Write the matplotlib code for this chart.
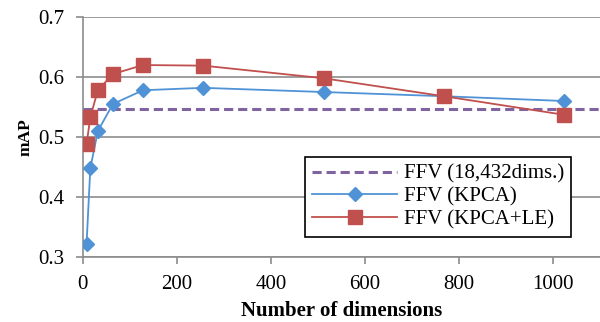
import matplotlib
matplotlib.use("Agg")
import matplotlib.pyplot as plt

plt.rcParams['font.family'] = ['Liberation Serif', 'DejaVu Serif']

ffv_x = [0, 1100]
ffv_y = [0.547, 0.547]

kpca_x = [8, 16, 32, 64, 128, 256, 512, 768, 1024]
kpca_y = [0.322, 0.448, 0.510, 0.555, 0.578, 0.582, 0.575, 0.568, 0.560]

kpca_le_x = [8, 16, 32, 64, 128, 256, 512, 768, 1024]
kpca_le_y = [0.488, 0.533, 0.578, 0.605, 0.620, 0.619, 0.598, 0.568, 0.537]

xticks = [0, 200, 400, 600, 800, 1000]
yticks = [0.3, 0.4, 0.5, 0.6, 0.7]

fig = plt.figure(figsize=(6.0, 3.22), dpi=100)
ax = fig.add_axes([0.138, 0.202, 0.862, 0.745])

gray = '#8c8c8c'
ax.plot(ffv_x, ffv_y, color='#8064A2', lw=2.2, ls=(0, (3, 1.6)),
        label='FFV (18,432dims.)', zorder=3)
ax.plot(kpca_x, kpca_y, color='#4F93D6', lw=1.3, marker='D', ms=7.5,
        label='FFV (KPCA)', zorder=4)
ax.plot(kpca_le_x, kpca_le_y, color='#C0504D', lw=1.3, marker='s', ms=10,
        label='FFV (KPCA+LE)', zorder=5)

ax.set_xlim(0, 1100)
ax.set_ylim(0.3, 0.7)
ax.set_xticks(xticks)
ax.set_yticks(yticks)
ax.set_yticklabels([f'{v:.1f}' for v in yticks])
ax.yaxis.grid(True, color=gray, lw=1.2)
ax.set_axisbelow(True)

for s in ['top', 'right']:
    ax.spines[s].set_visible(False)
for s in ['left', 'bottom']:
    ax.spines[s].set_color(gray)
    ax.spines[s].set_linewidth(1.2)
ax.tick_params(axis='both', colors=gray, labelcolor='black', labelsize=15,
               length=5, width=1.2, direction='out', pad=8)

ax.set_xlabel('Number of dimensions', fontsize=15, fontweight='bold', labelpad=5)
ax.set_ylabel('mAP', fontsize=12.5, fontweight='bold', labelpad=4)

leg = ax.legend(loc='upper left', bbox_to_anchor=(0.429, 0.417), fontsize=15,
                frameon=True, fancybox=False, framealpha=1, edgecolor='black',
                handlelength=4.1, borderpad=0.35, labelspacing=0.15,
                handletextpad=0.3, borderaxespad=0)
leg.get_frame().set_linewidth(1.2)

fig.savefig('out.png', dpi=100)
